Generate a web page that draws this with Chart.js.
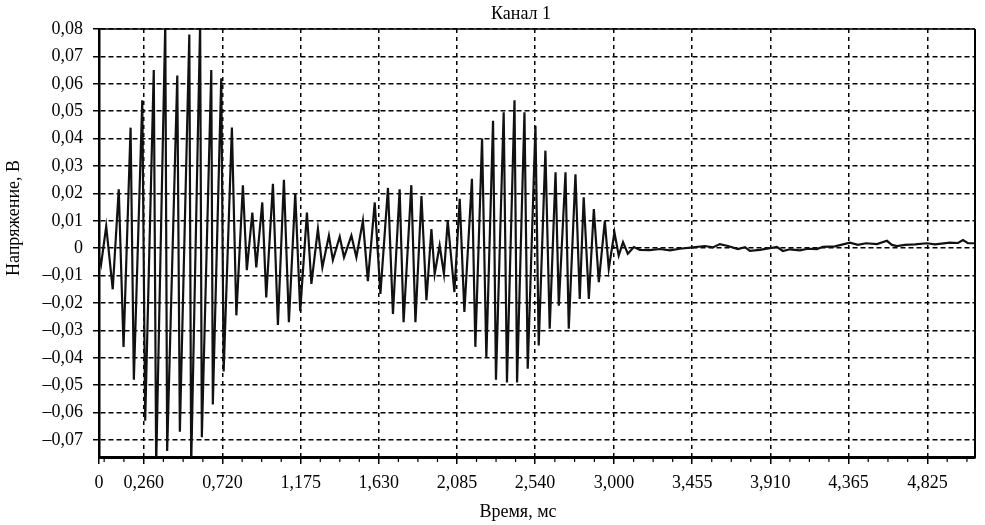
<!DOCTYPE html>
<html><head><meta charset="utf-8">
<script src="https://cdn.jsdelivr.net/npm/chart.js@4.4.0/dist/chart.umd.min.js"></script>
<style>html,body{margin:0;padding:0;background:#fff;}</style>
</head><body>
<canvas id="c" width="985" height="525"></canvas>
<script>
const chartTitle = 'Канал 1';
const xTitle = 'Время, мс';
const yTitle = 'Напряжение, В';

const xTickValues = [0, 0.260, 0.720, 1.175, 1.630, 2.085, 2.540, 3.000, 3.455, 3.910, 4.365, 4.825];
const xTickLabels = ['0', '0,260', '0,720', '1,175', '1,630', '2,085', '2,540', '3,000', '3,455', '3,910', '4,365', '4,825'];
const yTickValues = [-0.07, -0.06, -0.05, -0.04, -0.03, -0.02, -0.01, 0, 0.01, 0.02, 0.03, 0.04, 0.05, 0.06, 0.07, 0.08];

const timeMs = [
  0, 0.012, 0.042, 0.080, 0.115, 0.143, 0.184, 0.203, 0.252, 0.269,
  0.319, 0.333, 0.386, 0.397, 0.456, 0.471, 0.526, 0.537, 0.589, 0.599,
  0.654, 0.663, 0.712, 0.726, 0.774, 0.800, 0.838, 0.861, 0.893, 0.916,
  0.951, 0.974, 1.013, 1.042, 1.077, 1.106, 1.143, 1.172, 1.211, 1.237,
  1.275, 1.301, 1.339, 1.362, 1.402, 1.427, 1.470, 1.499, 1.537, 1.566,
  1.606, 1.639, 1.683, 1.712, 1.751, 1.774, 1.819, 1.843, 1.878, 1.907,
  1.936, 1.955, 1.984, 2.009, 2.031, 2.070, 2.101, 2.128, 2.172, 2.192,
  2.231, 2.256, 2.295, 2.312, 2.357, 2.376, 2.420, 2.435, 2.478, 2.497,
  2.542, 2.561, 2.600, 2.625, 2.659, 2.678, 2.717, 2.736, 2.775, 2.800,
  2.823, 2.853, 2.882, 2.911, 2.946, 2.969, 3.002, 3.027, 3.052, 3.080,
  3.115, 3.150, 3.208, 3.266, 3.325, 3.383, 3.459, 3.529, 3.575, 3.616,
  3.663, 3.721, 3.762, 3.791, 3.849, 3.907, 3.948, 3.983, 4.024, 4.082,
  4.129, 4.181, 4.216, 4.286, 4.374, 4.420, 4.467, 4.531, 4.589, 4.618,
  4.647, 4.694, 4.752, 4.822, 4.869, 4.956, 5.003, 5.032, 5.061, 5.102
];
const voltage = [
  -0.003, -0.006, 0.008, -0.015, 0.0215, -0.036, 0.044, -0.048, 0.054, -0.063,
  0.065, -0.079, 0.082, -0.074, 0.063, -0.067, 0.078, -0.079, 0.082, -0.069,
  0.065, -0.057, 0.062, -0.045, 0.044, -0.0245, 0.023, -0.008, 0.013, -0.007,
  0.0167, -0.018, 0.0235, -0.028, 0.025, -0.027, 0.020, -0.023, 0.013, -0.013,
  0.007, -0.007, 0.0046, -0.0043, 0.0042, -0.0033, 0.0046, -0.0033, 0.010, -0.012,
  0.0167, -0.0167, 0.022, -0.024, 0.0215, -0.027, 0.023, -0.027, 0.019, -0.019,
  0.007, -0.0094, 0.001, -0.0094, 0.010, -0.016, 0.018, -0.0233, 0.0253, -0.036,
  0.040, -0.040, 0.0465, -0.048, 0.0496, -0.049, 0.054, -0.049, 0.0496, -0.044,
  0.0447, -0.0355, 0.0356, -0.0294, 0.0277, -0.021, 0.0277, -0.0294, 0.027, -0.0185,
  0.0186, -0.0185, 0.0143, -0.0124, 0.010, -0.0075, 0.0058, -0.0027, 0.0022, -0.002,
  0.0004, -0.0006, -0.0007, -0.0003, -0.0008, -0.0002, 0.0003, 0.0008, 0.0003, 0.0015,
  0.0008, -0.0003, 0.0004, -0.001, -0.0006, 0.0, 0.0005, -0.001, -0.0004, -0.0008,
  -0.0002, -0.0003, 0.0005, 0.0007, 0.002, 0.0012, 0.0018, 0.0015, 0.0027, 0.0012,
  0.0008, 0.0012, 0.0014, 0.0018, 0.0014, 0.002, 0.0019, 0.003, 0.0018, 0.0018
];

const X_MIN = 0, X_MAX = 5.102, Y_MIN = -0.0762, Y_MAX = 0.08;
const FONT = '"Liberation Serif", "Times New Roman", serif';

function fmtY(v) {
  if (Math.abs(v) < 1e-9) return '0';
  const s = Math.abs(v).toFixed(2).replace('.', ',');
  return v < 0 ? '\u2013' + s : s;
}

// minor tick values between the labelled ticks
const minorTicks = [];
(function () {
  const vals = xTickValues.slice(1);
  const step0 = (vals[1] - vals[0]) / 4;
  for (let v = vals[0] - step0; v > X_MIN; v -= step0) minorTicks.push(v);
  for (let i = 0; i < vals.length - 1; i++) {
    const st = (vals[i + 1] - vals[i]) / 4;
    for (let k = 1; k < 4; k++) minorTicks.push(vals[i] + k * st);
  }
  const stL = (vals[vals.length - 1] - vals[vals.length - 2]) / 4;
  for (let v = vals[vals.length - 1] + stL; v < X_MAX; v += stL) minorTicks.push(v);
})();

const decor = {
  id: 'decor',
  afterDraw(chart) {
    const { ctx, chartArea: a, scales: { x } } = chart;
    ctx.save();
    ctx.strokeStyle = '#000';
    ctx.setLineDash([]);
    ctx.lineWidth = 1.5;
    ctx.beginPath(); ctx.moveTo(a.left, a.top); ctx.lineTo(a.right, a.top); ctx.stroke();
    ctx.lineWidth = 2;
    ctx.beginPath(); ctx.moveTo(a.right, a.top); ctx.lineTo(a.right, a.bottom + 1); ctx.stroke();
    ctx.lineWidth = 1.2;
    for (const v of minorTicks) {
      const px = x.getPixelForValue(v);
      ctx.beginPath(); ctx.moveTo(px, a.bottom); ctx.lineTo(px, a.bottom + 5); ctx.stroke();
    }
    ctx.fillStyle = '#000';
    ctx.font = '18px ' + FONT;
    ctx.textAlign = 'center';
    ctx.textBaseline = 'middle';
    ctx.fillText(chartTitle, 521, 14);
    ctx.fillText(xTitle, 518, 512);
    ctx.translate(14, 218);
    ctx.rotate(-Math.PI / 2);
    ctx.fillText(yTitle, 0, 0);
    ctx.restore();
  }
};

new Chart(document.getElementById('c'), {
  type: 'line',
  data: {
    datasets: [{
      data: timeMs.map((t, i) => ({ x: t, y: voltage[i] })),
      borderColor: '#111',
      borderWidth: 2.2,
      pointRadius: 0,
      tension: 0,
      fill: false
    }]
  },
  options: {
    responsive: false,
    animation: false,
    events: [],
    layout: { padding: { left: 0, right: 10, top: 29, bottom: 0 } },
    plugins: { legend: { display: false }, title: { display: false }, tooltip: { enabled: false } },
    scales: {
      x: {
        type: 'linear', min: X_MIN, max: X_MAX,
        afterBuildTicks: s => { s.ticks = xTickValues.map(v => ({ value: v })); },
        afterFit: s => { s.height = 68; },
        ticks: {
          autoSkip: false, maxRotation: 0, padding: 8, color: '#000',
          font: { family: FONT, size: 18 },
          callback: (v, i) => xTickLabels[i]
        },
        grid: { color: '#000', lineWidth: 1.5, tickLength: 7, tickWidth: 1.5, tickBorderDash: [] },
        border: { display: true, color: '#000', width: 3, dash: [4, 4] }
      },
      y: {
        type: 'linear', min: Y_MIN, max: Y_MAX,
        afterBuildTicks: s => { s.ticks = yTickValues.map(v => ({ value: v })); },
        afterFit: s => { s.width = 99; },
        ticks: {
          autoSkip: false, padding: 10, color: '#000',
          font: { family: FONT, size: 18 },
          callback: v => fmtY(v)
        },
        grid: { color: '#000', lineWidth: 1.5, tickLength: 6, tickWidth: 1.5, tickBorderDash: [] },
        border: { display: true, color: '#000', width: 2.5, dash: [5, 3] }
      }
    }
  },
  plugins: [decor]
});
</script>
</body></html>
